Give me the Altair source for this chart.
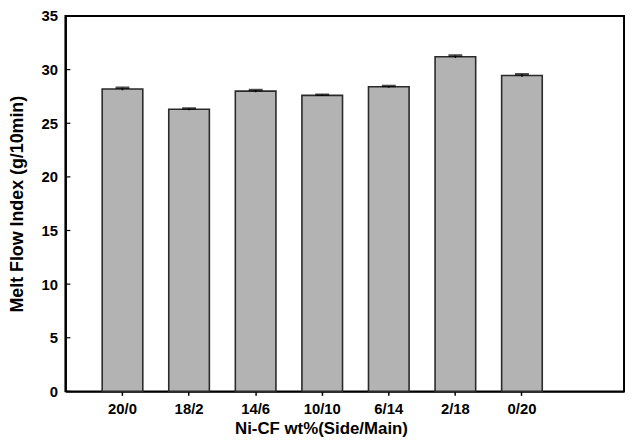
import altair as alt
import pandas as pd

categories = ["20/0", "18/2", "14/6", "10/10", "6/14", "2/18", "0/20"]
mfi = [28.2, 26.3, 28.0, 27.6, 28.4, 31.2, 29.45]
err = [0.12, 0.08, 0.1, 0.06, 0.08, 0.12, 0.12]
y_ticks = [0, 5, 10, 15, 20, 25, 30, 35]

df = pd.DataFrame({"cat": categories, "mfi": mfi, "err": err})
df["hi"] = df["mfi"] + df["err"]
df["lo"] = df["mfi"] - df["err"]
tick_df = pd.DataFrame({"t": y_ticks})

FONT = "Liberation Sans"

xscale = alt.Scale(paddingInner=0.39, paddingOuter=0.89, align=0.31)
yscale = alt.Scale(domain=[0, 35], nice=False)

x_enc = alt.X("cat:N", sort=categories, scale=xscale,
              axis=alt.Axis(title="Ni-CF wt%(Side/Main)", labelAngle=0,
                            tickSize=4, tickWidth=1.5, tickColor="black",
                            labelPadding=6, titlePadding=5, titleFontSize=17,
                            titleX=258, titleAlign="center",
                            domainColor="black", domainWidth=2))
y_axis = alt.Axis(title="Melt Flow Index (g/10min)", values=y_ticks,
                  ticks=False, labelPadding=8, titlePadding=15, grid=False,
                  titleFontSize=18,
                  domainColor="black", domainWidth=2)

bars = alt.Chart(df).mark_bar(color="#b3b3b3", stroke="#2a2a2a", strokeWidth=1.6).encode(
    x=x_enc,
    y=alt.Y("mfi:Q", scale=yscale, axis=y_axis),
)

rules = alt.Chart(df).mark_rule(color="black", strokeWidth=1.5).encode(
    x=alt.X("cat:N", sort=categories, scale=xscale),
    y=alt.Y("lo:Q", scale=yscale),
    y2="hi:Q",
)

caps = alt.Chart(df).mark_tick(color="black", thickness=2.5, size=14).encode(
    x=alt.X("cat:N", sort=categories, scale=xscale),
    y=alt.Y("hi:Q", scale=yscale),
)

inticks = alt.Chart(tick_df).mark_rule(color="black", strokeWidth=1.2).encode(
    y=alt.Y("t:Q", scale=yscale),
    x=alt.value(0),
    x2=alt.value(5),
)

chart = alt.layer(bars, rules, caps, inticks).properties(
    width=564, height=379,
    autosize=alt.AutoSizeParams(type="none"),
    padding={"left": 58, "top": 6, "right": 2, "bottom": 46},
).configure_view(
    stroke="black", strokeWidth=2
).configure_axis(
    labelFont=FONT, titleFont=FONT, labelFontSize=15,
    labelFontWeight="bold", titleFontWeight="bold",
    labelColor="black", titleColor="black",
)

chart.save("out.html", embed_options={"renderer": "svg", "actions": False})
